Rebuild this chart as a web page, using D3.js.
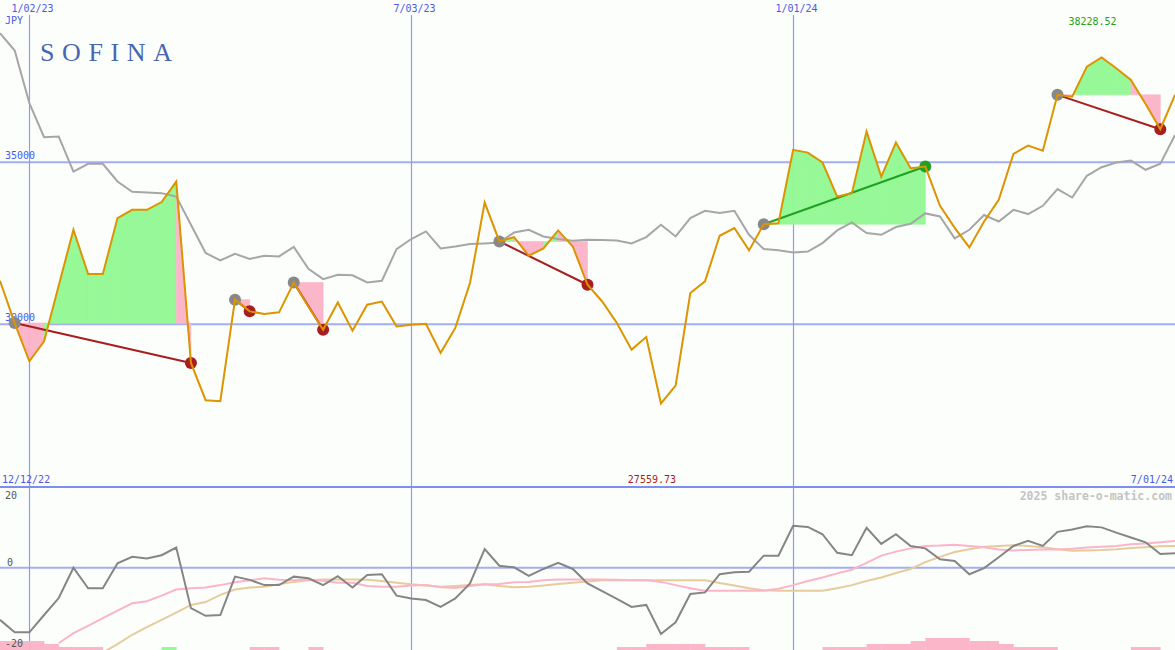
<!DOCTYPE html>
<html>
<head>
<meta charset="utf-8">
<script src="https://cdn.jsdelivr.net/npm/d3@7"></script>
<style>
html,body{margin:0;padding:0;background:#fcfefc;}
svg{display:block;}
</style>
</head>
<body>
<svg id="chart" width="1175" height="650"></svg>
<script>
// ---------- data ----------
const startDate = "12/19/22";
const endDate = "7/01/24";
const dateTicks = ["1/02/23", "7/03/23", "1/01/24"];
const priceTicks = [30000, 35000];
const oscTicks = [20, 0, -20];

const price = [31345, 30040, 28860, 29475, 31200, 32915, 31550, 31550, 33275, 33530,
  33530, 33770, 34400, 28810, 27660, 27630, 30760, 30400, 30320, 30370,
  31290, 30545, 29835, 30675, 29805, 30605, 30700, 29935, 29990, 30020,
  29120, 29890, 31275, 33755, 32555, 32690, 32115, 32340, 32895, 32400,
  31220, 30705, 30040, 29220, 29610, 27559.73, 28110, 30965, 31325, 32730,
  32970, 32280, 33085, 33115, 35380, 35295, 34990, 33940, 34045, 35945,
  34555, 35605, 34815, 34865, 33655, 32975, 32370, 33170, 33840, 35255,
  35510, 35350, 37075, 37020, 37945, 38228.52, 37895, 37535, 36795, 36015,
  37075];

const average = [38975, 38440, 36820, 35770, 35790, 34710, 34950, 34950, 34405, 34085,
  34065, 34045, 33940, 33070, 32200, 31970, 32175, 32015, 32115, 32095,
  32385, 31715, 31395, 31530, 31510, 31290, 31345, 32320, 32630, 32865,
  32340, 32400, 32475, 32495, 32525, 32830, 32915, 32710, 32630, 32575,
  32610, 32600, 32585, 32495, 32690, 33070, 32710, 33275, 33500, 33430,
  33500, 32760, 32320, 32285, 32215, 32245, 32505, 32895, 33140, 32815,
  32760, 33000, 33100, 33420, 33325, 32650, 32915, 33370, 33170, 33530,
  33400, 33655, 34170, 33910, 34580, 34845, 34990, 35050, 34765, 34950,
  35840];

const tradeEntry = [1, 16, 20, 34, 52, 72];
const tradeExit  = [13, 17, 22, 40, 63, 79];

const momentum = [-12.9, -16.0, -16.0, -11.7, -7.5, 0.0, -5.1, -5.1, 1.1, 2.7,
  2.3, 3.1, 5.0, -10.0, -11.9, -11.7, -2.2, -3.0, -4.3, -4.3,
  -2.2, -2.6, -4.3, -2.1, -4.9, -1.8, -1.6, -6.9, -7.6, -8.0,
  -9.7, -7.6, -3.9, 4.6, 0.5, 0.1, -2.0, -0.3, 1.2, -0.3,
  -3.9, -5.8, -7.7, -9.7, -9.2, -16.4, -13.5, -6.5, -6.1, -1.6,
  -1.1, -1.0, 3.0, 3.0, 10.4, 10.1, 8.3, 3.7, 3.1, 9.9,
  5.9, 8.3, 5.4, 4.8, 2.1, 1.7, -1.6, -0.1, 2.6, 5.4,
  6.7, 5.4, 8.9, 9.5, 10.3, 10.0, 8.7, 7.5, 6.3, 3.4,
  3.6];

const momentumAvgA = [null, null, null, null, -18.7, -16.2, -14.4, -12.5, -10.6, -8.8,
  -8.3, -6.9, -5.4, -5.1, -4.9, -4.3, -3.6, -3.1, -2.6, -3.0,
  -3.1, -2.9, -3.2, -3.7, -3.7, -4.5, -4.7, -4.7, -4.4, -4.3,
  -4.8, -5.0, -4.5, -4.1, -4.0, -3.6, -3.5, -3.1, -2.9, -2.9,
  -2.9, -2.9, -3.0, -3.1, -3.1, -3.5, -4.3, -5.1, -5.7, -5.7,
  -5.7, -5.7, -5.7, -5.2, -4.3, -3.3, -2.4, -1.4, -0.5, 1.2,
  3.0, 4.0, 4.8, 5.4, 5.5, 5.7, 5.4, 5.1, 4.5, 4.3,
  4.4, 4.5, 4.5, 4.7, 5.0, 5.2, 5.4, 5.8, 6.0, 6.3,
  6.6];

const momentumAvgB = [null, null, null, null, null, null, null, -21.0, -18.9, -16.6,
  -14.7, -12.9, -11.1, -9.2, -8.5, -6.7, -5.4, -4.9, -4.7, -4.1,
  -3.5, -3.1, -2.9, -2.9, -2.9, -3.0, -3.3, -3.7, -4.1, -4.4,
  -4.7, -4.5, -4.3, -4.1, -4.5, -4.8, -4.7, -4.4, -4.0, -3.7,
  -3.4, -3.1, -3.1, -3.1, -3.1, -3.1, -3.1, -3.1, -3.1, -3.8,
  -4.4, -5.1, -5.6, -5.7, -5.7, -5.7, -5.7, -5.1, -4.3, -3.3,
  -2.4, -1.3, -0.3, 1.4, 2.7, 3.9, 4.6, 5.2, 5.4, 5.6,
  5.4, 5.1, 4.6, 4.2, 4.3, 4.4, 4.6, 4.9, 5.1, 5.3,
  5.4];

// signal strength blocks: positive = pink, negative = green
const signalBars = [3, 3, 3, 2, 1, 1, 1, 0, 0, 0,
  0, -1, 0, 0, 0, 0, 0, 1, 1, 0,
  0, 1, 0, 0, 0, 0, 0, 0, 0, 0,
  0, 0, 0, 0, 0, 0, 0, 0, 0, 0,
  0, 0, 1, 1, 2, 2, 2, 2, 1, 1,
  1, 0, 0, 0, 0, 0, 1, 1, 1, 2,
  2, 2, 3, 4, 4, 4, 3, 3, 2, 1,
  1, 1, 0, 0, 0, 0, 0, 1, 1, 0,
  0];

const title = "SOFINA";
const currency = "JPY";
const firstLabel = "12/12/22";
const watermark = "2025 share-o-matic.com";

// ---------- setup ----------
const W = 1175, H = 650, splitY = 487;
const MONO = "'DejaVu Sans Mono', monospace";
const parse = d3.timeParse("%m/%d/%y");
const fmt = d3.timeFormat("%-m/%d/%y");
const t0 = parse(startDate);
const dates = price.map((_, i) => d3.timeDay.offset(t0, 7 * i));

const x = d3.scaleTime().domain([t0, parse(endDate)]).range([0, W]);
const y = d3.scaleLinear().domain([25000, 40000]).range([486.5, 0]);
const yb = d3.scaleLinear().domain([-20, 20]).range([648.5, 487]);
const yBar = d3.scaleLinear().domain([0, 4]).range([650, 638]);

const svg = d3.select("#chart");
svg.append("rect").attr("width", W).attr("height", H).attr("fill", "#fcfefc");

const defs = svg.append("defs");
defs.append("clipPath").attr("id", "clipTop").append("rect").attr("x", 0).attr("y", 0).attr("width", W).attr("height", splitY);
defs.append("clipPath").attr("id", "clipBot").append("rect").attr("x", 0).attr("y", splitY).attr("width", W).attr("height", H - splitY);

const grid = "#a2aff2";

// horizontal grid lines
svg.append("g").selectAll("line").data(priceTicks).join("line")
  .attr("x1", 0).attr("x2", W).attr("y1", d => y(d)).attr("y2", d => y(d))
  .attr("stroke", grid).attr("stroke-width", 2);
svg.append("line").attr("x1", 0).attr("x2", W).attr("y1", yb(0)).attr("y2", yb(0))
  .attr("stroke", grid).attr("stroke-width", 2);

// vertical date lines + labels via axis
const axis = d3.axisTop(x).tickValues(dateTicks.map(parse)).tickFormat(fmt)
  .tickSizeInner(-(H - 15)).tickSizeOuter(0).tickPadding(3);
const ag = svg.append("g").attr("transform", "translate(0,15)").call(axis);
ag.select(".domain").remove();
ag.selectAll(".tick").attr("transform", d => `translate(${Math.round(x(d)) + 0.5},0)`);
ag.selectAll(".tick line").attr("stroke", "#8c9cf2").attr("stroke-width", 1.2);
ag.selectAll("text").attr("fill", "#4a5ae6").style("font-size", "10px").style("font-family", MONO).attr("dx", 3);

// price tick labels
svg.append("g").selectAll("text").data(priceTicks).join("text")
  .attr("x", 5).attr("y", d => y(d) - 3).text(d => d)
  .attr("fill", "#4a5ae6").style("font-size", "10px").style("font-family", MONO);

svg.append("text").attr("x", 5).attr("y", 24).text(currency).attr("fill", "#4a5ae6")
  .style("font-size", "10px").style("font-family", MONO);

svg.append("text").attr("x", 40).attr("y", 61).text(title)
  .style("font-family", "'Liberation Serif', 'DejaVu Serif', serif").style("font-size", "26px")
  .style("letter-spacing", "7.6px").attr("fill", "#4866b0");

// ---------- top panel ----------
const topG = svg.append("g").attr("clip-path", "url(#clipTop)");

// trade fills
const seg = d3.area().x(d => x(d.date)).y0(d => y(d.base)).y1(d => y(d.v));
tradeEntry.forEach((e, k) => {
  const base = price[e];
  for (let i = e; i < tradeExit[k]; i++) {
    const pts = [{date: dates[i], v: price[i], base}, {date: dates[i + 1], v: price[i + 1], base}];
    const col = price[i + 1] > base ? "#96f896" : "#fcb6ca";
    topG.append("path").attr("d", seg(pts))
      .attr("fill", col).attr("stroke", col).attr("stroke-width", 0.6);
  }
});

const lineP = d3.line().x((d, i) => x(dates[i])).y(d => y(d));
topG.append("path").attr("d", lineP(average)).attr("fill", "none")
  .attr("stroke", "#a6a6a6").attr("stroke-width", 2);

// trade lines and markers
tradeEntry.forEach((e, k) => {
  const xo = tradeExit[k];
  const win = price[xo] > price[e];
  const col = win ? "#22a022" : "#a81e1e";
  topG.append("line").attr("x1", x(dates[e])).attr("y1", y(price[e]))
    .attr("x2", x(dates[xo])).attr("y2", y(price[xo]))
    .attr("stroke", col).attr("stroke-width", 2);
  topG.append("circle").attr("cx", x(dates[e])).attr("cy", y(price[e])).attr("r", 6).attr("fill", "#888888");
  topG.append("circle").attr("cx", x(dates[xo])).attr("cy", y(price[xo])).attr("r", 6).attr("fill", col);
});

topG.append("path").attr("d", lineP(price)).attr("fill", "none")
  .attr("stroke", "#dc9400").attr("stroke-width", 2).attr("stroke-linejoin", "miter");

// max / min labels
const iMax = d3.maxIndex(price), iMin = d3.minIndex(price);
svg.append("text").attr("x", x(dates[iMax]) - 9).attr("y", 25).attr("text-anchor", "middle")
  .text(d3.format(".2f")(price[iMax])).attr("fill", "#22a022").style("font-size", "10px").style("font-family", MONO);
svg.append("text").attr("x", x(dates[iMin]) - 9).attr("y", 483).attr("text-anchor", "middle")
  .text(d3.format(".2f")(price[iMin])).attr("fill", "#a81e1e").style("font-size", "10px").style("font-family", MONO);

svg.append("text").attr("x", 2).attr("y", 483).text(firstLabel).attr("fill", "#4a5ae6")
  .style("font-size", "10px").style("font-family", MONO);
svg.append("text").attr("x", 1173).attr("y", 483).attr("text-anchor", "end").text(endDate).attr("fill", "#4a5ae6")
  .style("font-size", "10px").style("font-family", MONO);

// ---------- bottom panel ----------
const botG = svg.append("g").attr("clip-path", "url(#clipBot)");
botG.selectAll("rect.bar").data(signalBars).join("rect").attr("class", "bar")
  .attr("x", (d, i) => x(dates[i]))
  .attr("width", (d, i) => x(d3.timeDay.offset(dates[i], 7)) - x(dates[i]) + 0.3)
  .attr("y", d => yBar(Math.abs(d)))
  .attr("height", d => yBar(0) - yBar(Math.abs(d)))
  .attr("fill", d => d < 0 ? "#98f898" : "#fcb6ca");

const lineB = d3.line().defined(d => d !== null).x((d, i) => x(dates[i])).y(d => yb(d));
botG.append("path").attr("d", lineB(momentumAvgB)).attr("fill", "none").attr("stroke", "#e6cc9c").attr("stroke-width", 2);
botG.append("path").attr("d", lineB(momentumAvgA)).attr("fill", "none").attr("stroke", "#fcb4c8").attr("stroke-width", 2);
botG.append("path").attr("d", lineB(momentum)).attr("fill", "none").attr("stroke", "#858585").attr("stroke-width", 2);

svg.append("g").selectAll("text").data(oscTicks).join("text")
  .attr("x", d => d === 0 ? 7 : 5)
  .attr("y", d => d > 0 ? yb(d) + 12 : yb(d) - 2)
  .text(d => d).attr("fill", "#555555").style("font-size", "10px").style("font-family", MONO);

svg.append("line").attr("x1", 0).attr("x2", W).attr("y1", splitY).attr("y2", splitY)
  .attr("stroke", "#7e8ef0").attr("stroke-width", 2);

svg.append("text").attr("x", 1172).attr("y", 500).attr("text-anchor", "end").text(watermark)
  .attr("fill", "#c4c4c4").style("font-size", "11.5px").style("font-weight", "bold").style("font-family", MONO);
</script>
</body>
</html>
